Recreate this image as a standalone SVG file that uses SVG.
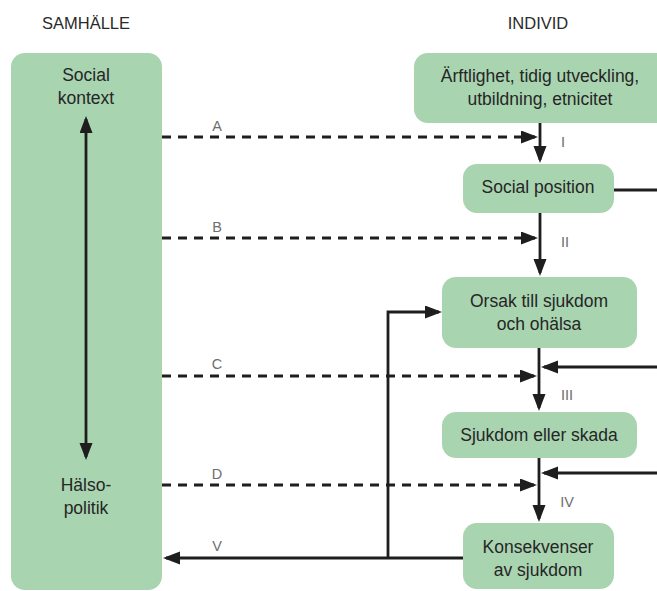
<svg xmlns="http://www.w3.org/2000/svg" width="657" height="591" viewBox="0 0 657 591">
<style>
.box{fill:#a8d4b0;}
.t{font-family:"Liberation Sans",Arial,sans-serif;font-size:17.5px;fill:#262626;text-anchor:middle;}
.h{font-family:"Liberation Sans",Arial,sans-serif;font-size:16.5px;fill:#2a2a2a;text-anchor:middle;}
.l{font-family:"Liberation Sans",Arial,sans-serif;font-size:14.5px;fill:#6e6e6e;text-anchor:middle;}
.s{fill:none;stroke:#1e1e1e;stroke-width:2.8;}
.d{fill:none;stroke:#1e1e1e;stroke-width:2.8;stroke-dasharray:9 7;}
</style>
<defs>
<marker id="ah" markerUnits="userSpaceOnUse" markerWidth="18" markerHeight="14" refX="14" refY="6.5" orient="auto-start-reverse" viewBox="0 0 18 14">
<path d="M0,0 L17,6.5 L0,13 z" fill="#1e1e1e"/>
</marker>
</defs>
<text class="h" x="86" y="29">SAMHÄLLE</text>
<text class="h" x="538" y="29">INDIVID</text>
<g id="samhalle">
<rect class="box" x="11" y="53" width="151" height="537" rx="14"/>
<text class="t" x="86" y="81">Social</text>
<text class="t" x="86" y="104">kontext</text>
<text class="t" x="86" y="491">Hälso-</text>
<text class="t" x="86" y="514">politik</text>
</g>
<g id="arftlighet">
<rect class="box" x="414" y="53" width="260" height="70" rx="14"/>
<text class="t" x="540" y="82">Ärftlighet, tidig utveckling,</text>
<text class="t" x="540" y="105">utbildning, etnicitet</text>
</g>
<g id="socialposition">
<rect class="box" x="463" y="164" width="151" height="49" rx="14"/>
<text class="t" x="538" y="193">Social position</text>
</g>
<g id="orsak">
<rect class="box" x="442" y="277" width="195" height="71" rx="14"/>
<text class="t" x="539" y="307">Orsak till sjukdom</text>
<text class="t" x="539" y="330">och ohälsa</text>
</g>
<g id="sjukdom">
<rect class="box" x="442" y="412" width="195" height="46" rx="14"/>
<text class="t" x="539" y="441">Sjukdom eller skada</text>
</g>
<g id="konsekvenser">
<rect class="box" x="463" y="523" width="151" height="66" rx="14"/>
<text class="t" x="538" y="553">Konsekvenser</text>
<text class="t" x="538" y="576">av sjukdom</text>
</g>
<g id="connectors">
<path class="s" d="M86,119 V457" marker-start="url(#ah)" marker-end="url(#ah)"/>
<path class="s" d="M540,123 V160" marker-end="url(#ah)"/>
<path class="s" d="M540,213 V273" marker-end="url(#ah)"/>
<path class="s" d="M539,348 V408" marker-end="url(#ah)"/>
<path class="s" d="M539,458 V519" marker-end="url(#ah)"/>
<path class="d" d="M162,137 H535" marker-end="url(#ah)"/>
<path class="d" d="M162,238 H535" marker-end="url(#ah)"/>
<path class="d" d="M162,376 H534" marker-end="url(#ah)"/>
<path class="d" d="M162,485 H534" marker-end="url(#ah)"/>
<path class="s" d="M657,367 H544" marker-end="url(#ah)"/>
<path class="s" d="M657,473 H544" marker-end="url(#ah)"/>
<path class="s" d="M614,190 H657"/>
<path class="s" d="M463,558 H166" marker-end="url(#ah)"/>
<path class="s" d="M388,558 V312 H439" marker-end="url(#ah)"/>
<text class="l" x="217" y="131">A</text>
<text class="l" x="217" y="232">B</text>
<text class="l" x="217" y="369">C</text>
<text class="l" x="217" y="479">D</text>
<text class="l" x="217" y="551">V</text>
<text class="l" x="563" y="147">I</text>
<text class="l" x="565" y="247">II</text>
<text class="l" x="567" y="400">III</text>
<text class="l" x="567" y="507">IV</text>
</g>
</svg>
